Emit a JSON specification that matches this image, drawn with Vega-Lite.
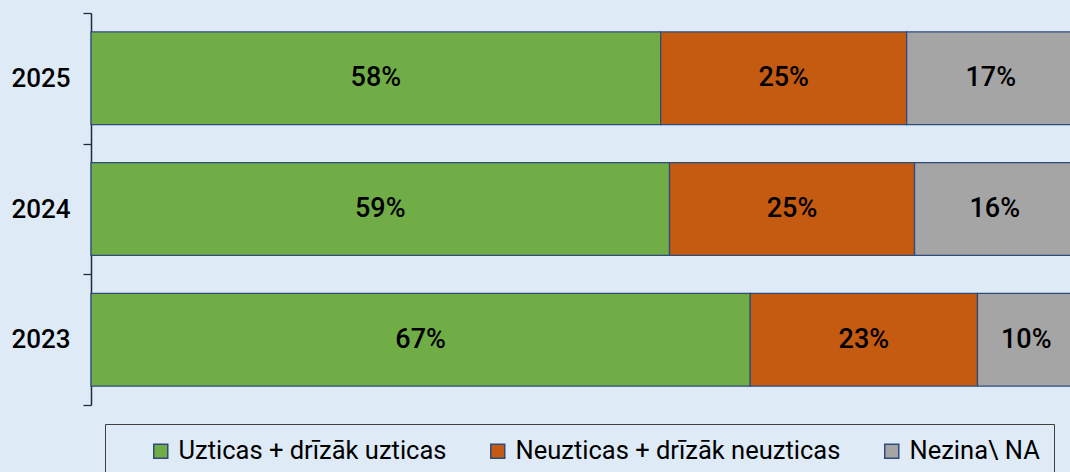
{
  "$schema": "https://vega.github.io/schema/vega-lite/v6.json",
  "width": 979,
  "height": 392,
  "autosize": {"type": "none"},
  "padding": {"left": 91, "top": 13, "right": 0, "bottom": 67},
  "background": "#deeaf6",
  "config": {"view": {"stroke": null}, "font": "Roboto"},
  "data": {
    "values": [
      {"year": "2025", "category": "Uzticas + drīzāk uzticas", "order": 1, "value": 0.579},
      {"year": "2025", "category": "Neuzticas + drīzāk neuzticas", "order": 2, "value": 0.250},
      {"year": "2025", "category": "Nezina\\ NA", "order": 3, "value": 0.171},
      {"year": "2024", "category": "Uzticas + drīzāk uzticas", "order": 1, "value": 0.588},
      {"year": "2024", "category": "Neuzticas + drīzāk neuzticas", "order": 2, "value": 0.249},
      {"year": "2024", "category": "Nezina\\ NA", "order": 3, "value": 0.163},
      {"year": "2023", "category": "Uzticas + drīzāk uzticas", "order": 1, "value": 0.670},
      {"year": "2023", "category": "Neuzticas + drīzāk neuzticas", "order": 2, "value": 0.231},
      {"year": "2023", "category": "Nezina\\ NA", "order": 3, "value": 0.099}
    ]
  },
  "transform": [
    {"stack": "value", "groupby": ["year"], "sort": [{"field": "order"}], "as": ["v0", "v1"]}
  ],
  "encoding": {
    "y": {
      "field": "year",
      "type": "nominal",
      "sort": ["2025", "2024", "2023"],
      "scale": {"paddingInner": 0, "paddingOuter": 0},
      "axis": {
        "title": null,
        "domain": true,
        "domainColor": "#1f2a44",
        "domainWidth": 1.5,
        "ticks": true,
        "tickBand": "extent",
        "tickSize": 8,
        "tickColor": "#1f2a44",
        "tickWidth": 1.3,
        "labelFontSize": 26,
        "labelFontWeight": 500,
        "labelColor": "#000000",
        "labelPadding": 13,
        "labelFont": "Roboto"
      }
    }
  },
  "layer": [
    {
      "mark": {"type": "bar", "stroke": "#2f4b7c", "strokeWidth": 1.3, "height": {"band": 0.71}},
      "encoding": {
        "x": {"field": "v0", "type": "quantitative", "scale": {"domain": [0, 0.995], "nice": false, "zero": true}, "axis": null},
        "x2": {"field": "v1"},
        "color": {
          "field": "category",
          "type": "nominal",
          "scale": {
            "domain": ["Uzticas + drīzāk uzticas", "Neuzticas + drīzāk neuzticas", "Nezina\\ NA"],
            "range": ["#70ad47", "#c55a11", "#a5a5a5"]
          },
          "legend": {
            "orient": "none",
            "legendX": 14,
            "legendY": 411,
            "direction": "horizontal",
            "title": null,
            "symbolType": "square",
            "symbolSize": 196,
            "symbolStrokeColor": "#2f4b7c",
            "symbolStrokeWidth": 1.5,
            "symbolOpacity": 1,
            "symbolOffset": 29,
            "labelFontSize": 25.5,
            "labelFont": "Roboto",
            "labelColor": "#000000",
            "labelOffset": 5,
            "labelLimit": 600,
            "columnPadding": 9,
            "padding": 14,
            "strokeColor": "#404040",
            "labelExpr": "indexof(datum.label, 'Nezina') == 0 ? datum.label + '\u00a0\u00a0\u00a0\u00a0\u00a0' : datum.label"
          }
        }
      }
    },
    {
      "transform": [
        {"fold": ["v0", "v1"], "as": ["edgeName", "edge"]},
        {"aggregate": [{"op": "mean", "field": "edge", "as": "mid"}], "groupby": ["year", "category", "value"]}
      ],
      "mark": {"type": "text", "fontSize": 27, "fontWeight": 500, "color": "#000000", "font": "Roboto"},
      "encoding": {
        "x": {"field": "mid", "type": "quantitative"},
        "text": {"field": "value", "type": "quantitative", "format": ".0%"}
      }
    }
  ]
}
